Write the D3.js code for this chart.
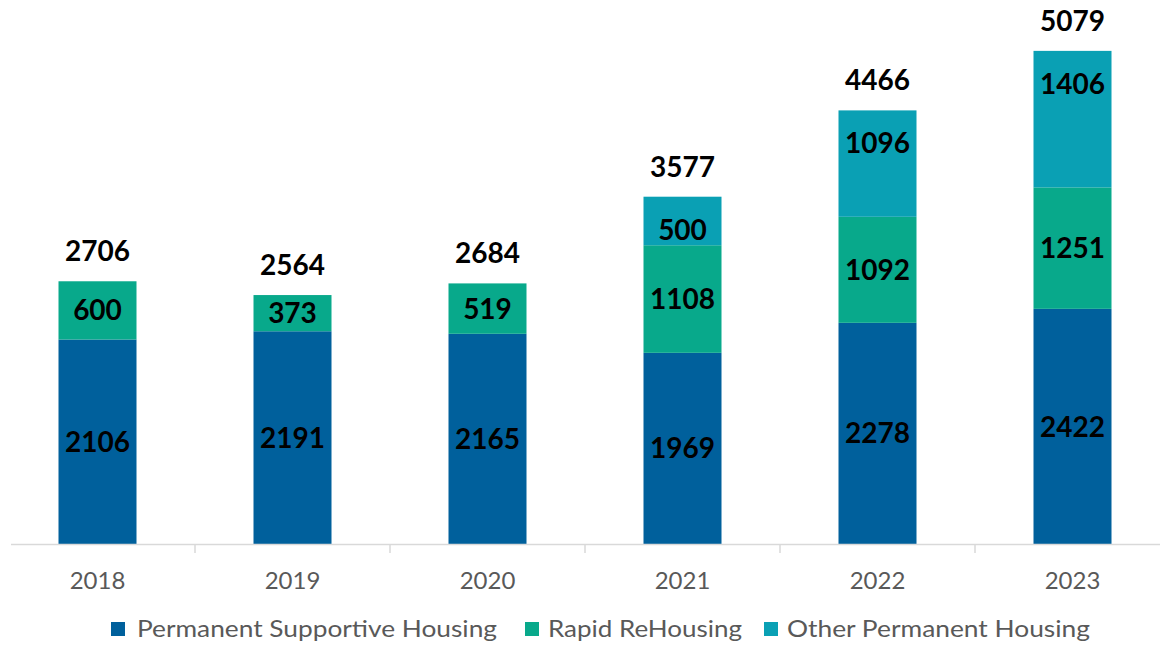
<!DOCTYPE html>
<html lang="en">
<head>
    <meta charset="UTF-8">
    <title>Housing placements by year</title>
    <script src="https://d3js.org/d3.v7.min.js"></script>
    <style>
        body {
            margin: 0;
            padding: 0;
            background: #ffffff;
            font-family: Lato, "Open Sans", sans-serif;
        }
    </style>
</head>
<body>
    <svg id="chart"></svg>
    <script>
        // Data
        const years = ["2018", "2019", "2020", "2021", "2022", "2023"];
        const psh = [2106, 2191, 2165, 1969, 2278, 2422];
        const rrh = [600, 373, 519, 1108, 1092, 1251];
        const oph = [0, 0, 0, 500, 1096, 1406];
        const seriesNames = ["Permanent Supportive Housing", "Rapid ReHousing", "Other Permanent Housing"];
        const seriesColors = ["#00609C", "#08A98B", "#0AA0B4"];

        const width = 1160;
        const height = 647;

        const svg = d3.select("#chart")
            .attr("width", width)
            .attr("height", height);

        const rows = years.map((yr, i) => ({ year: yr, psh: psh[i], rrh: rrh[i], oph: oph[i] }));
        const keys = ["psh", "rrh", "oph"];
        const stacked = d3.stack().keys(keys)(rows);

        const x = d3.scaleBand()
            .domain(years)
            .range([0, 1170])
            .paddingInner(0.6)
            .paddingOuter(0.3);

        const y = d3.scaleLinear()
            .domain([0, 5500])
            .range([544, 10]);

        // Bars
        const layers = svg.selectAll(".layer")
            .data(stacked)
            .enter()
            .append("g")
            .attr("fill", (d, i) => seriesColors[i]);

        layers.selectAll("rect")
            .data(d => d.filter(s => s[1] - s[0] > 0))
            .enter()
            .append("rect")
            .attr("x", d => x(d.data.year))
            .attr("width", x.bandwidth())
            .attr("y", d => y(d[1]))
            .attr("height", d => y(d[0]) - y(d[1]));

        // Segment labels (top series sits near the inside end, like the original)
        layers.each(function(layer, li) {
            d3.select(this).selectAll("text")
                .data(layer.filter(s => s[1] - s[0] > 0))
                .enter()
                .append("text")
                .attr("x", d => x(d.data.year) + x.bandwidth() / 2)
                .attr("y", d => li === 2 ? y(d[1]) + 33 : (y(d[0]) + y(d[1])) / 2)
                .attr("dy", "0.36em")
                .attr("text-anchor", "middle")
                .attr("fill", "#000")
                .attr("font-weight", "bold")
                .attr("font-size", 28)
                .text(d => d[1] - d[0]);
        });

        // Totals
        svg.selectAll(".total")
            .data(rows)
            .enter()
            .append("text")
            .attr("class", "total")
            .attr("x", d => x(d.year) + x.bandwidth() / 2)
            .attr("y", d => y(d.psh + d.rrh + d.oph) - 20)
            .attr("text-anchor", "middle")
            .attr("fill", "#000")
            .attr("font-weight", "bold")
            .attr("font-size", 28)
            .text(d => d.psh + d.rrh + d.oph);

        // X axis
        const axis = svg.append("g");
        axis.append("line")
            .attr("x1", 11).attr("x2", width)
            .attr("y1", 544.5).attr("y2", 544.5)
            .attr("stroke", "#d9d9d9")
            .attr("stroke-width", 1.5);

        axis.selectAll(".tick")
            .data(years.slice(1))
            .enter()
            .append("line")
            .attr("x1", d => x(d) - x.step() * x.paddingInner() / 2)
            .attr("x2", d => x(d) - x.step() * x.paddingInner() / 2)
            .attr("y1", 544)
            .attr("y2", 553)
            .attr("stroke", "#d9d9d9")
            .attr("stroke-width", 1.5);

        axis.selectAll(".label")
            .data(years)
            .enter()
            .append("text")
            .attr("x", d => x(d) + x.bandwidth() / 2)
            .attr("y", 589)
            .attr("text-anchor", "middle")
            .attr("fill", "#595959")
            .attr("font-size", 24)
            .text(d => d);

        // Legend
        const legendX = [111, 525, 764];
        const legendLen = [360, 194, 303];
        const legend = svg.selectAll(".legend")
            .data(seriesNames)
            .enter()
            .append("g")
            .attr("transform", (d, i) => `translate(${legendX[i]}, 629)`);

        legend.append("rect")
            .attr("x", 0)
            .attr("y", -7)
            .attr("width", 14)
            .attr("height", 14)
            .attr("fill", (d, i) => seriesColors[i]);

        legend.append("text")
            .attr("x", (d, i) => i === 0 ? 26 : 23)
            .attr("y", 0)
            .attr("dy", "0.35em")
            .attr("fill", "#595959")
            .attr("font-size", 23)
            .attr("textLength", (d, i) => legendLen[i])
            .attr("lengthAdjust", "spacingAndGlyphs")
            .text(d => d);
    </script>
</body>
</html>
